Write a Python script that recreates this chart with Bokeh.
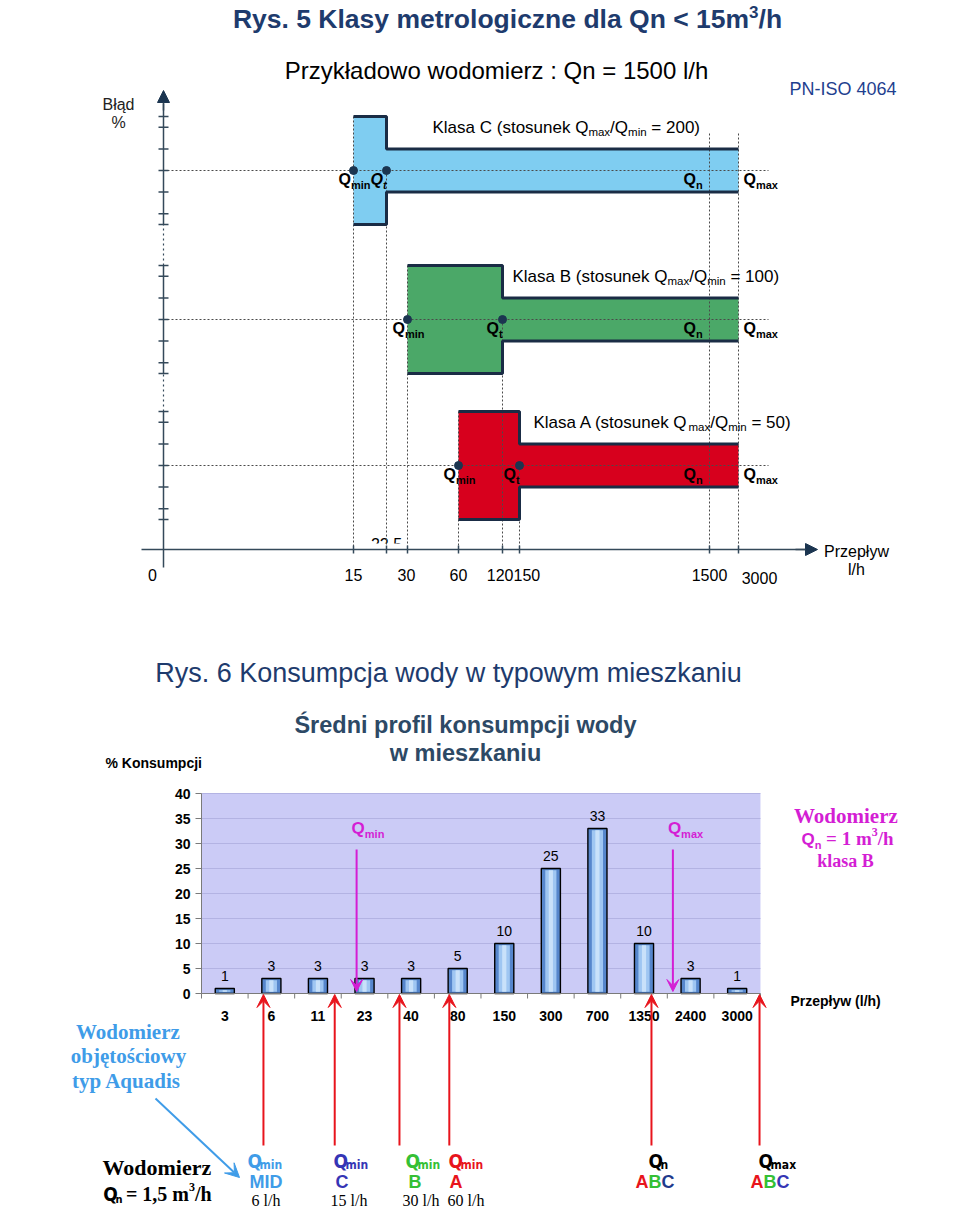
import math
from bokeh.plotting import figure
from bokeh.models import Range1d, ColumnDataSource, Arrow, VeeHead, NormalHead
from bokeh.core.properties import value
from bokeh.embed import file_html
from bokeh.resources import INLINE

# ------------------------------------------------------------------ data
# Rys. 5 - metrological classes (example meter Qn = 1500 l/h)
axis_flows = [0, 15, 22.5, 30, 60, 120, 150, 1500, 3000]
axis_labels = ["0", "15", "22,5", "30", "60", "120", "150", "1500", "3000"]
class_names = ["C", "B", "A"]
class_ratio = ["200", "100", "50"]
class_qmin = [15, 30, 60]
class_qt = [22.5, 120, 150]
q_n = 1500
q_max = 3000
err_wide = 5      # % limit between Qmin and Qt
err_narrow = 2    # % limit between Qt and Qmax
err_ticks = [-5, -4, -2, 0, 2, 4, 5]

# Rys. 6 - average water consumption profile
flow_cats = ["3", "6", "11", "23", "40", "80", "150", "300", "700", "1350", "2400", "3000"]
consumption = [1, 3, 3, 3, 3, 5, 10, 25, 33, 10, 3, 1]
pct_ticks = [0, 5, 10, 15, 20, 25, 30, 35, 40]

# meter marks under Rys. 6 (position on the category axis)
meter_cat_pos = [1.33, 2.86, 4.25, 5.32, 9.66, 11.98]
meter_q_sub = ["min", "min", "min", "min", "n", "max"]
meter_class = ["MID", "C", "B", "A", "ABC", "ABC"]
meter_flow_lbl = ["6 l/h", "15 l/h", "30 l/h", "60 l/h", "", ""]
classb_q_sub = ["min", "max"]
classb_cat_pos = [3.33, 10.12]

# ------------------------------------------------------------------ layout
W, H = 960, 1212
AX_PX = dict(zip(axis_flows, [163, 353, 386, 407, 458, 502, 519, 709, 738]))  # schematic axis
CLASS_Y = [170, 319, 465]
PX_PCT = 10.8
X_AXIS_Y = 549
Y_AXIS_X = 163
BX0, BW = 201, 46.58
BY0, BS = 993, 5
MID_K = 0.35   # rendered text is centred ~0.35 em above the requested y

NAVY_T = "#1e3b6d"
AXIS_COL = "#34495a"
DOT_COL = "#1b3550"
OUTLINE = "#1a2c45"
CLS_FILL = ["#7fcdf1", "#4ba868", "#d7001d"]
MAGENTA = "#d41ed4"
RED = "#e8141c"
LBLUE = "#3f9ce8"

FONTS = {"sans": "Liberation Sans, Arial, sans-serif",
         "serif": "Liberation Serif, Times New Roman, serif",
         "narrow": "Liberation Sans Narrow, Arial Narrow, DejaVu Sans Condensed, sans-serif"}

LOW = "abcdefghijklmnopqrstuvwxyz"
UP = "ABCDEFGHIJKLMNOPQRSTUVWXYZ"
def _mk(lo, up, dig, extra):
    d = dict(zip(LOW, lo)); d.update(zip(UP, up)); d.update({c: dig for c in "0123456789"}); d.update(extra)
    return d
SANS_R = _mk([556,556,500,556,556,278,556,556,222,222,500,222,833,556,556,556,556,333,500,278,556,500,722,500,500,500],
             [667,667,722,722,667,611,778,722,278,500,667,556,833,722,778,667,778,722,667,611,722,667,944,667,667,611],
             556, {" ":278, ".":278, ",":278, "/":278, "(":333, ")":333, "=":584, "<":584, "-":333, ":":278, "%":889})
SANS_B = _mk([556,611,556,611,556,333,611,611,278,278,556,278,889,611,611,611,611,389,556,333,611,556,778,556,556,500],
             [722,722,722,722,667,611,778,722,278,556,722,611,833,722,778,667,778,722,667,611,722,667,944,667,667,611],
             556, {" ":278, ".":278, ",":278, "/":278, "(":333, ")":333, "=":584, "<":584, "-":333, ":":333, "%":889})
SERIF_R = _mk([444,500,444,500,444,333,500,500,278,278,500,278,778,500,500,500,500,333,389,278,500,500,722,500,500,444],
              [722,667,667,722,611,556,722,722,333,389,722,611,889,722,722,556,722,667,556,611,722,722,944,722,722,611],
              500, {" ":250, ".":250, ",":250, "/":278, "(":333, ")":333, "=":564})
SERIF_B = _mk([500,556,444,556,444,333,500,556,278,333,556,278,833,556,500,556,556,444,389,333,556,500,722,500,500,444],
              [722,667,722,722,667,611,778,778,389,500,778,667,944,722,778,611,778,722,556,667,722,722,1000,722,722,667],
              500, {" ":250, ".":250, ",":250, "/":278, "(":333, ")":333, "=":570})
PL = {"ł":"l", "ą":"a", "ę":"e", "ś":"s", "Ś":"S", "ó":"o", "ć":"c", "ż":"z", "ź":"z", "ń":"n"}

def tw(s, size, fam="sans", bold=False):
    tbl = (SERIF_B if bold else SERIF_R) if fam == "serif" else (SANS_B if bold else SANS_R)
    f = 0.82 if fam == "narrow" else 1.0
    return sum(tbl.get(PL.get(ch, ch), 556) for ch in s) * size / 1000.0 * f

def P(t, s, dy=0, c="black", fam="sans", b=False, it=False):
    return (t, s, dy, c, fam, b, it)

# ------------------------------------------------------------------ figure
ranges_y = {"by": Range1d((BY0 - H) / BS, BY0 / BS)}
for i, cn in enumerate(class_names):
    yc = CLASS_Y[i]
    ranges_y["e" + cn] = Range1d((yc - H) / PX_PCT, yc / PX_PCT)

p = figure(width=W, height=H, x_range=Range1d(0, W), y_range=Range1d(H, 0),
           output_backend="svg", toolbar_location=None, x_axis_location=None,
           y_axis_location=None, min_border=0)
p.outline_line_color = None
p.background_fill_color = "white"
p.border_fill_color = "white"
p.xgrid.grid_line_color = None
p.ygrid.grid_line_color = None
p.extra_x_ranges = {"bx": Range1d(-BX0 / BW, (W - BX0) / BW)}
p.extra_y_ranges = ranges_y


def rich(x, y, parts, align="left"):
    """y is the alphabetic baseline of the text line"""
    widths = [tw(t, s, fam, b) for (t, s, dy, c, fam, b, it) in parts]
    total = sum(widths)
    x0 = x - total if align == "right" else (x - total / 2.0 if align == "center" else x)
    for (t, s, dy, c, fam, b, it), w in zip(parts, widths):
        lead = len(t) - len(t.lstrip(" "))
        txt = t.strip(" ")
        style = "bold italic" if (b and it) else ("bold" if b else ("italic" if it else "normal"))
        if txt:
            p.text(x=[x0 + tw(" " * lead, s, fam, b)], y=[y + dy - MID_K * s], text=[txt],
                   text_font=value(FONTS[fam]), text_font_size=f"{s}px", text_color=c,
                   text_font_style=style, text_align="left", text_baseline="middle")
        x0 += w


def X(f):
    return AX_PX[f]


def epx(i, e):
    return CLASS_Y[i] - e * PX_PCT

# ================================================================== Rys. 5
rich(507, 28, [P("Rys. 5 Klasy metrologiczne dla Qn < 15m", 26.5, 0, NAVY_T, "sans", True),
               P("3", 17, -11, NAVY_T, "sans", True), P("/h", 26.5, 0, NAVY_T, "sans", True)], "center")
rich(496, 78, [P("Przykładowo wodomierz : Qn = 1500 l/h", 24)], "center")
rich(896, 95, [P("PN-ISO 4064", 18, 0, "#1f3f8f")], "right")
rich(118, 110, [P("Błąd", 16, 0, "#222222")], "center")
rich(118, 128, [P("%", 16, 0, "#222222")], "center")

# class shapes
for i, cn in enumerate(class_names):
    xs = [X(class_qmin[i]), X(class_qt[i]), X(class_qt[i]), X(q_max), X(q_max),
          X(class_qt[i]), X(class_qt[i]), X(class_qmin[i])]
    ys = [err_wide, err_wide, err_narrow, err_narrow, -err_narrow, -err_narrow, -err_wide, -err_wide]
    p.patch(xs, ys, y_range_name="e" + cn, fill_color=CLS_FILL[i], line_color=None)

# partly hidden 22,5 label
rich(X(22.5), X_AXIS_Y, [P(axis_labels[2], 16)], "center")
p.quad(left=[X(22.5) - 16], right=[X(22.5) + 16], top=[X_AXIS_Y - 6], bottom=[X_AXIS_Y + 8],
       fill_color="white", line_color=None)

# dashed guides
for i, cn in enumerate(class_names):
    p.segment(x0=[Y_AXIS_X + 4], y0=[0], x1=[768], y1=[0], y_range_name="e" + cn,
              line_color="#4a4a4a", line_width=1, line_dash="2 2")
vx, vy0 = [], []
for i in range(3):
    vx += [X(class_qmin[i]), X(class_qt[i])]
    vy0 += [epx(i, err_wide), epx(i, 0)]
vx += [X(q_n), X(q_max)]
vy0 += [133, 133]
p.segment(x0=vx, y0=vy0, x1=vx, y1=[X_AXIS_Y] * len(vx), line_color="#4a4a4a",
          line_width=1, line_dash="2 2")

# outlines and dots
for i, cn in enumerate(class_names):
    a, b, c = X(class_qmin[i]), X(class_qt[i]), X(q_max)
    p.multi_line(xs=[[a, b, b, c], [c, b, b, a]],
                 ys=[[err_wide, err_wide, err_narrow, err_narrow],
                     [-err_narrow, -err_narrow, -err_wide, -err_wide]],
                 y_range_name="e" + cn, line_color=OUTLINE, line_width=3)
    p.scatter(x=[a, b], y=[0, 0], y_range_name="e" + cn, size=8, marker="circle",
              fill_color=DOT_COL, line_color=DOT_COL)

# axes
tops = [epx(i, err_wide) for i in range(3)]
bots = [epx(i, -err_wide) for i in range(3)]
p.multi_line(xs=[[Y_AXIS_X, Y_AXIS_X]] * 3,
             ys=[[X_AXIS_Y + 18, tops[2]], [bots[1], tops[1]], [bots[0], 103]],
             line_color=AXIS_COL, line_width=1.5)
p.multi_line(xs=[[Y_AXIS_X, Y_AXIS_X]] * 2, ys=[[tops[2], bots[1]], [tops[1], bots[0]]],
             line_color=AXIS_COL, line_width=1.2, line_dash="2 3")
ty = []
for i in range(3):
    for e in err_ticks:
        ty.append(epx(i, e))
p.segment(x0=[Y_AXIS_X - 5] * len(ty), y0=ty, x1=[Y_AXIS_X + 5] * len(ty), y1=ty,
          line_color=AXIS_COL, line_width=1.5)
p.add_layout(Arrow(end=NormalHead(size=12, fill_color=DOT_COL, line_color=DOT_COL),
                   x_start=Y_AXIS_X, y_start=110, x_end=Y_AXIS_X, y_end=90,
                   line_color=AXIS_COL, line_width=1.5))
p.segment(x0=[141], y0=[X_AXIS_Y], x1=[806], y1=[X_AXIS_Y], line_color=AXIS_COL, line_width=1.5)
p.add_layout(Arrow(end=NormalHead(size=12, fill_color=DOT_COL, line_color=DOT_COL),
                   x_start=795, y_start=X_AXIS_Y, x_end=817, y_end=X_AXIS_Y,
                   line_color=AXIS_COL, line_width=1.5))
xt = [X(f) for f in axis_flows[1:]]
p.segment(x0=xt, y0=[X_AXIS_Y - 4] * len(xt), x1=xt, y1=[X_AXIS_Y + 4] * len(xt),
          line_color=AXIS_COL, line_width=1.5)

# tick labels (label layout of the schematic axis)
lbl_x = {"0": 152, "15": 353, "30": 406, "60": 458, "1500": 709, "3000": 759}
for f, lab in zip(axis_flows, axis_labels):
    if lab in lbl_x:
        rich(lbl_x[lab], 583 if lab == "3000" else 580, [P(lab, 16)], "center")
rich(513, 580, [P(axis_labels[5], 16)], "right")
rich(513, 580, [P(axis_labels[6], 16)], "left")
rich(856, 557, [P("Przepływ", 16)], "center")
rich(856, 575, [P("l/h", 16)], "center")

# class captions
klasa_x = [432, 512, 533]
for i, cn in enumerate(class_names):
    rich(klasa_x[i], CLASS_Y[i] - 37,
         [P("Klasa %s (stosunek Q" % cn, 17), P("max", 11.5, 3), P("/Q", 17), P("min", 11.5, 3),
          P(" = %s)" % class_ratio[i], 17)])

# Q labels
for i, cn in enumerate(class_names):
    yb = CLASS_Y[i] + 15
    rich(X(class_qmin[i]) - 15, yb, [P("Q", 16, 0, "black", "sans", True), P("min", 11, 3, "black", "sans", True)])
    itl = (cn == "C")
    rich(X(class_qt[i]) - 16, yb, [P("Q", 16, 0, "black", "sans", True, itl), P("t", 11, 3, "black", "sans", True, itl)])
    rich(X(q_n) - 26, yb, [P("Q", 16, 0, "black", "sans", True), P("n", 11, 3, "black", "sans", True)])
    rich(X(q_max) + 5, yb, [P("Q", 16, 0, "black", "sans", True), P("max", 11, 3, "black", "sans", True)])

# ================================================================== Rys. 6
rich(448, 682, [P("Rys. 6 Konsumpcja wody w typowym mieszkaniu", 27, 0, NAVY_T)], "center")
rich(465, 733, [P("Średni profil konsumpcji wody", 23.5, 0, "#2d4965", "sans", True)], "center")
rich(465, 761, [P("w mieszkaniu", 23.5, 0, "#2d4965", "sans", True)], "center")
rich(105, 767, [P("% Konsumpcji", 14, 0, "black", "sans", True)])

n = len(flow_cats)
centers = [i + 0.5 for i in range(n)]
p.quad(left=[0], right=[n], bottom=[0], top=[pct_ticks[-1]], x_range_name="bx", y_range_name="by",
       fill_color="#cbcbf6", line_color=None)
p.segment(x0=[0] * (len(pct_ticks) - 1), y0=pct_ticks[1:], x1=[n] * (len(pct_ticks) - 1), y1=pct_ticks[1:],
          x_range_name="bx", y_range_name="by", line_color="#b3b3e3", line_width=1)
p.segment(x0=[0], y0=[0], x1=[0], y1=[pct_ticks[-1]], x_range_name="bx", y_range_name="by",
          line_color="#7a7a7a", line_width=1)
p.segment(x0=[BX0 - 6] * len(pct_ticks), y0=pct_ticks, x1=[BX0] * len(pct_ticks), y1=pct_ticks,
          y_range_name="by", line_color="#7a7a7a", line_width=1)
p.text(x=[BX0 - 11] * len(pct_ticks), y=pct_ticks, text=[str(v) for v in pct_ticks], y_range_name="by",
       text_align="right", text_baseline="middle", text_font=value(FONTS["sans"]),
       text_font_size="14px", text_font_style="bold", text_color="black")

p.vbar(x=centers, top=consumption, bottom=0, width=0.41, x_range_name="bx", y_range_name="by",
       fill_color="#5686cc", line_color="black", line_width=1.4)
p.vbar(x=centers, top=[v - 0.35 for v in consumption], bottom=0.35, width=0.24, x_range_name="bx",
       y_range_name="by", fill_color="#9fc6f2", line_color=None)
p.vbar(x=centers, top=[v - 0.35 for v in consumption], bottom=0.35, width=0.09, x_range_name="bx",
       y_range_name="by", fill_color="#c9e1fa", line_color=None)
p.text(x=centers, y=consumption, text=[str(v) for v in consumption], x_range_name="bx", y_range_name="by",
       y_offset=-13, text_align="center", text_baseline="middle", text_font=value(FONTS["sans"]),
       text_font_size="14px", text_color="black")

p.segment(x0=[0], y0=[0], x1=[n], y1=[0], x_range_name="bx", y_range_name="by",
          line_color="#7a7a7a", line_width=1.2)
p.segment(x0=list(range(n + 1)), y0=[BY0] * (n + 1), x1=list(range(n + 1)), y1=[BY0 + 5] * (n + 1),
          x_range_name="bx", line_color="#7a7a7a", line_width=1)
p.text(x=centers, y=[1015] * n, text=flow_cats, x_range_name="bx", text_align="center",
       text_baseline="middle", text_font=value(FONTS["sans"]), text_font_size="14px",
       text_font_style="bold", text_color="black")
rich(790, 1005, [P("Przepływ (l/h)", 14, 0, "black", "sans", True)])

# class B meter (magenta)
msrc = ColumnDataSource(dict(x=classb_cat_pos, y0=[849] * 2, y1=[991] * 2))
p.add_layout(Arrow(source=msrc, x_start="x", y_start="y0", x_end="x", y_end="y1", x_range_name="bx",
                   end=VeeHead(size=12, fill_color=MAGENTA, line_color=MAGENTA),
                   line_color=MAGENTA, line_width=2))
for pos, sub in zip(classb_cat_pos, classb_q_sub):
    rich(BX0 + pos * BW - 5, 834, [P("Q", 17, 0, MAGENTA, "sans", True), P(sub, 11, 3, MAGENTA, "sans", True)])

rich(846, 823, [P("Wodomierz", 21, 0, MAGENTA, "serif", True)], "center")
rich(847, 845, [P("Q", 17, 0, MAGENTA, "sans", True), P("n", 11, 3, MAGENTA, "sans", True),
                P(" = 1 m", 19, 0, MAGENTA, "serif", True), P("3", 12, -9, MAGENTA, "serif", True),
                P("/h", 19, 0, MAGENTA, "serif", True)], "center")
rich(845, 867, [P("klasa B", 18, 0, MAGENTA, "serif", True)], "center")

# meters (red arrows)
rsrc = ColumnDataSource(dict(x=meter_cat_pos, y0=[1145] * len(meter_cat_pos), y1=[994] * len(meter_cat_pos)))
p.add_layout(Arrow(source=rsrc, x_start="x", y_start="y0", x_end="x", y_end="y1", x_range_name="bx",
                   end=VeeHead(size=13, fill_color=RED, line_color=RED), line_color=RED, line_width=2))

cls_col = {"MID": [LBLUE, LBLUE, LBLUE], "C": ["#3535b5"], "B": ["#35c035"], "A": [RED],
           "ABC": [RED, "#35c035", "#1f3a8c"]}
q_col = [LBLUE, "#3535b5", "#35c035", RED, "black", "black"]
q_left = [247, 333, 405, 448, 648, 758]
c_left = [249, 335, 408, 449, 635, 750]
f_left = [251, 330, 402, 447, 0, 0]
for k in range(len(meter_cat_pos)):
    rich(q_left[k], 1167, [P("Q", 19, 0, q_col[k], "narrow", True), P(meter_q_sub[k], 12, 2, q_col[k], "narrow", True)])
    name = meter_class[k]
    if name == "MID":
        parts = [P(name, 18, 0, LBLUE, "sans", True)]
    else:
        cols = cls_col[name]
        if name == "ABC" and k == 5:
            cols = [RED, "#35c035", "#3535b5"]
        parts = [P(ch, 18, 0, cols[j], "sans", True) for j, ch in enumerate(name)]
    rich(c_left[k], 1188, parts)
    if meter_flow_lbl[k]:
        rich(f_left[k], 1206, [P(meter_flow_lbl[k], 16, 0, "black", "serif")])

# left side labels
rich(128, 1039, [P("Wodomierz", 21, 0, LBLUE, "serif", True)], "center")
rich(128, 1063, [P("objętościowy", 21, 0, LBLUE, "serif", True)], "center")
rich(126, 1088, [P("typ Aquadis", 21, 0, LBLUE, "serif", True)], "center")
p.add_layout(Arrow(end=VeeHead(size=14, fill_color=LBLUE, line_color=LBLUE), x_start=155, y_start=1098,
                   x_end=239, y_end=1177, line_color=LBLUE, line_width=2))
rich(157, 1175, [P("Wodomierz", 22, 0, "black", "serif", True)], "center")
rich(157, 1200, [P("Q", 19, 0, "black", "narrow", True), P("n", 11, 3, "black", "narrow", True),
                 P(" = 1,5 m", 20, 0, "black", "serif", True), P("3", 12, -9, "black", "serif", True),
                 P("/h", 20, 0, "black", "serif", True)], "center")

open("out.html", "w").write(file_html(p, INLINE))
